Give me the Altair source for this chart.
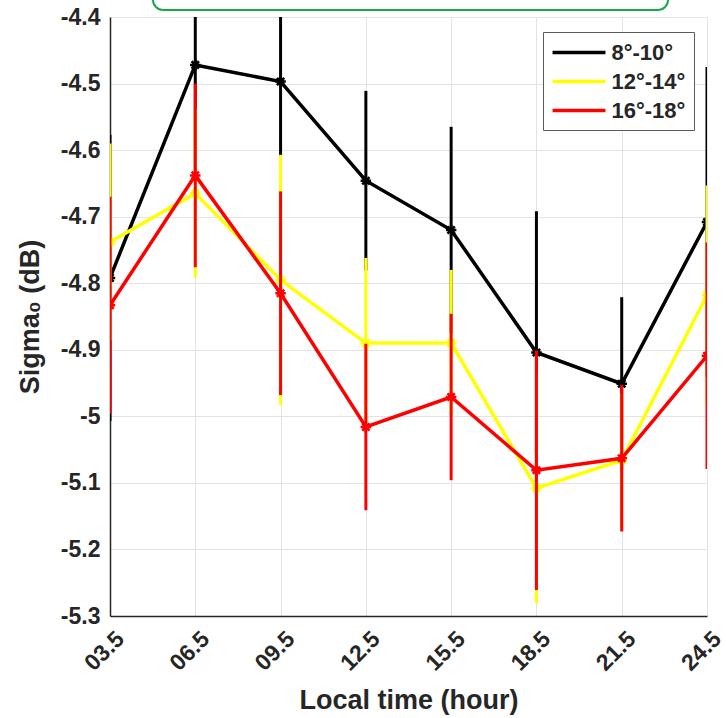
import altair as alt
import pandas as pd

hours = [3.5, 6.5, 9.5, 12.5, 15.5, 18.5, 21.5, 24.5]
series_names = ["8°-10°", "12°-14°", "16°-18°"]
series_colors = ["#000000", "#ffff00", "#ff0000"]

black_mean = [-4.792, -4.472, -4.497, -4.646, -4.720, -4.904, -4.951, -4.708]
black_err = [0.215, 0.160, 0.113, 0.135, 0.155, 0.212, 0.130, 0.233]
yellow_mean = [-4.738, -4.665, -4.795, -4.890, -4.890, -5.108, -5.066, -4.818]
yellow_err = [0.148, 0.127, 0.188, 0.128, 0.110, 0.173, 0.100, 0.165]
red_mean = [-4.833, -4.638, -4.815, -5.016, -4.971, -5.081, -5.063, -4.909]
red_err = [0.163, 0.138, 0.153, 0.125, 0.125, 0.180, 0.110, 0.170]

y_ticks = [-5.3, -5.2, -5.1, -5.0, -4.9, -4.8, -4.7, -4.6, -4.5, -4.4]

means = [black_mean, yellow_mean, red_mean]
errs = [black_err, yellow_err, red_err]

rows = []
for name, m, e in zip(series_names, means, errs):
    for h, v, d in zip(hours, m, e):
        rows.append({"hour": h, "sigma": v, "lo": v - d, "hi": v + d, "series": name})
df = pd.DataFrame(rows)

FONT = "Liberation Sans"
TXT = "#262626"
ASTERISK = "M-1,0L1,0M0,-1L0,1M-0.7,-0.7L0.7,0.7M-0.7,0.7L0.7,-0.7"

x_enc = alt.X(
    "hour:Q",
    scale=alt.Scale(domain=[3.5, 24.5], nice=False, zero=False),
    axis=alt.Axis(
        values=hours,
        labelExpr="format(datum.value, '04.1f')",
        title="Local time (hour)",
        labelAngle=-45,
        labelAlign="right",
        labelBaseline="middle",
        labelPadding=19,
        labelOffset=10,
        titlePadding=12,
    ),
)
y_scale = alt.Scale(domain=[-5.3, -4.4], nice=False, zero=False)
y_axis = alt.Axis(
    values=y_ticks,
    labelExpr="replace(format(datum.value, '.1~f'), '\u2212', '-')",
    title="Sigma\u2080 (dB)",
    labelPadding=10,
    titlePadding=16,
)

color_enc = alt.Color(
    "series:N",
    scale=alt.Scale(domain=series_names, range=series_colors),
    legend=alt.Legend(
        title=None,
        orient="none",
        legendX=433,
        legendY=15,
        symbolType="M-2.52,0L2.52,0",
        symbolSize=441,
        symbolStrokeWidth=3.5,
        symbolFillColor="transparent",
        symbolOffset=15.5,
        labelOffset=20,
        labelFont=FONT,
        labelFontSize=22,
        labelFontWeight="bold",
        labelColor=TXT,
        padding=8,
        rowPadding=5,
        strokeColor="#5a5a5a",
        fillColor="#ffffff",
    ),
)

layers = []
for name in series_names:
    base = alt.Chart(df).transform_filter(alt.datum.series == name)
    rule = base.mark_rule(strokeWidth=3, clip=True).encode(
        x=x_enc,
        y=alt.Y("lo:Q", scale=y_scale, axis=y_axis),
        y2="hi:Q",
        color=color_enc,
    )
    line = base.mark_line(strokeWidth=3.5, clip=True).encode(
        x=x_enc,
        y=alt.Y("sigma:Q", scale=y_scale, axis=y_axis),
        color=color_enc,
    )
    pts = base.mark_point(shape=ASTERISK, size=110, filled=False, strokeWidth=2.5, opacity=1, clip=True).encode(
        x=x_enc,
        y=alt.Y("sigma:Q", scale=y_scale, axis=y_axis),
        color=color_enc,
    )
    layers += [rule, line, pts]

frame = alt.Chart(pd.DataFrame({"k": [0]})).mark_rect(
    fill="#ffffff", stroke="#18a84a", strokeWidth=2, cornerRadius=10
).encode(
    x=alt.value(43), x2=alt.value(558), y=alt.value(-40), y2=alt.value(-7)
)

chart = alt.layer(*layers, frame).properties(
    width=597,
    height=599,
    autosize=alt.AutoSizeParams(type="none"),
    padding={"left": 110, "top": 17, "right": 19, "bottom": 102},
).configure_view(stroke=None).configure_axis(
    labelFont=FONT,
    labelFontSize=23,
    labelFontWeight="bold",
    labelColor=TXT,
    titleFont=FONT,
    titleFontSize=27,
    titleFontWeight="bold",
    titleColor=TXT,
    domainColor=TXT,
    domainWidth=1.5,
    ticks=False,
    gridColor="#e3e3e3",
    gridWidth=1,
)

chart.save("out.html", embed_options={"renderer": "svg", "actions": False})
